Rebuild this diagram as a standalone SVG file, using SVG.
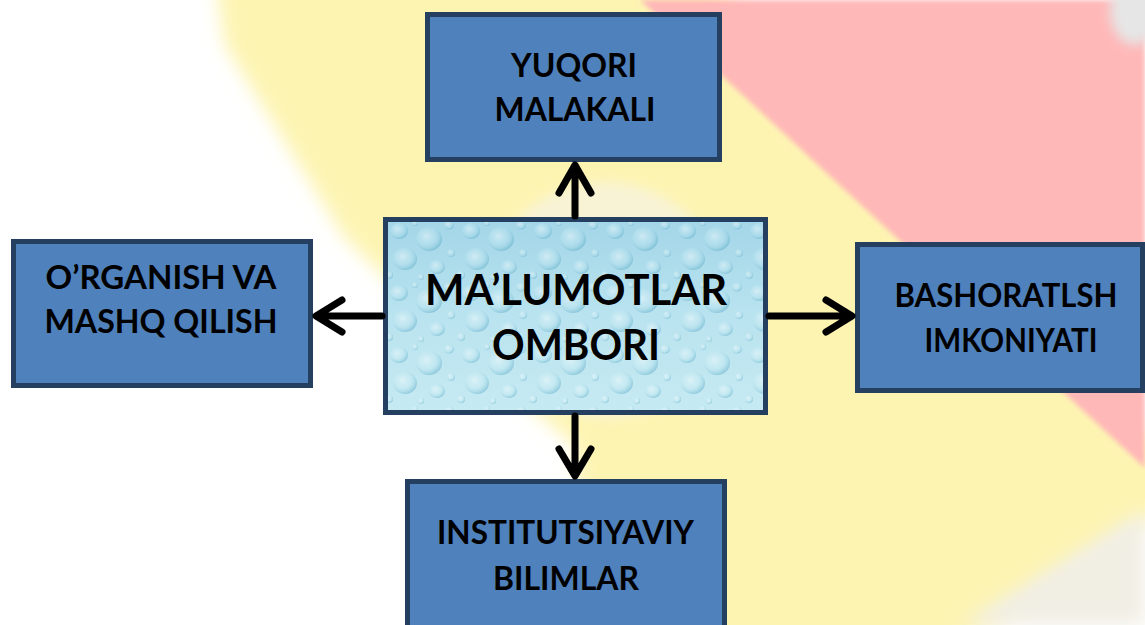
<svg xmlns="http://www.w3.org/2000/svg" width="1145" height="625" viewBox="0 0 1145 625">
<style>
.box{fill:#4f81bd;stroke:#243f60;stroke-width:5}
.lbl{font-family:Lato,"Liberation Sans",sans-serif;font-weight:bold;font-size:31.5px;fill:#000;text-anchor:middle}
.big{font-size:42px}
.conn{stroke:#000;stroke-width:7;fill:none;stroke-linecap:round;stroke-linejoin:round}
</style>
<defs>
<filter id="blurBig" x="-20%" y="-20%" width="140%" height="140%"><feGaussianBlur stdDeviation="9"/></filter>
<filter id="blurMid" x="-20%" y="-20%" width="140%" height="140%"><feGaussianBlur stdDeviation="6"/></filter>
<filter id="blurSm" x="-10%" y="-10%" width="120%" height="120%"><feGaussianBlur stdDeviation="2.5"/></filter>
<linearGradient id="water" x1="0" y1="0" x2="0" y2="1">
<stop offset="0" stop-color="#a3d6e8"/>
<stop offset="0.5" stop-color="#b9e3ef"/>
<stop offset="1" stop-color="#c6eaf2"/>
</linearGradient>
<radialGradient id="drop" cx="0.4" cy="0.38" r="0.62">
<stop offset="0" stop-color="#ffffff" stop-opacity="0.45"/>
<stop offset="0.55" stop-color="#d6f1f7" stop-opacity="0.2"/>
<stop offset="0.85" stop-color="#7fc2d8" stop-opacity="0.35"/>
<stop offset="1" stop-color="#5eaac6" stop-opacity="0.45"/>
</radialGradient>
<pattern id="drops" patternUnits="userSpaceOnUse" x="385" y="219" width="72" height="62">
<ellipse cx="14" cy="12" rx="9" ry="8" fill="url(#drop)"/>
<ellipse cx="44" cy="20" rx="13" ry="12" fill="url(#drop)"/>
<ellipse cx="64" cy="6" rx="5" ry="4.5" fill="url(#drop)"/>
<ellipse cx="20" cy="40" rx="12" ry="11" fill="url(#drop)"/>
<ellipse cx="52" cy="48" rx="8" ry="7" fill="url(#drop)"/>
<ellipse cx="4" cy="56" rx="4" ry="4" fill="url(#drop)"/>
<ellipse cx="66" cy="34" rx="4" ry="4" fill="url(#drop)"/>
<ellipse cx="36" cy="58" rx="3" ry="3" fill="url(#drop)"/>
<ellipse cx="30" cy="4" rx="3" ry="3" fill="url(#drop)"/>
</pattern>
</defs>

<g id="background">
<rect x="0" y="0" width="1145" height="625" fill="#ffffff"/>
<polygon points="214,-30 700,-30 1180,470 1180,500 940,660 590,660 575,445 445,335 345,238 225,45" fill="#fdf4b2" filter="url(#blurBig)"/>
<polygon points="640,0 1145,0 1145,468" fill="#ffb8b8" filter="url(#blurSm)"/>
<ellipse cx="605" cy="300" rx="120" ry="118" fill="#f8f3dc" filter="url(#blurMid)" opacity="0.85"/>
<ellipse cx="1135" cy="10" rx="25" ry="35" fill="#e6e6e6" filter="url(#blurMid)"/>
<polygon points="960,625 1145,510 1145,625" fill="#f1eee4" filter="url(#blurBig)"/>
</g>

<g id="node-top">
<rect class="box" x="427.5" y="14.5" width="292" height="145"/>
<text class="lbl" x="574" y="77" textLength="126" lengthAdjust="spacingAndGlyphs">YUQORI</text>
<text class="lbl" x="575" y="121" textLength="161" lengthAdjust="spacingAndGlyphs">MALAKALI</text>
</g>

<g id="node-left">
<rect class="box" x="13.5" y="241.5" width="297" height="144"/>
<text class="lbl" x="161" y="289" textLength="231" lengthAdjust="spacingAndGlyphs">O’RGANISH VA</text>
<text class="lbl" x="161" y="333" textLength="233" lengthAdjust="spacingAndGlyphs">MASHQ QILISH</text>
</g>

<g id="node-right">
<rect class="box" x="857.5" y="244.5" width="285" height="146"/>
<text class="lbl" x="1006" y="307" textLength="223" lengthAdjust="spacingAndGlyphs">BASHORATLSH</text>
<text class="lbl" x="1011" y="352" textLength="173" lengthAdjust="spacingAndGlyphs">IMKONIYATI</text>
</g>

<g id="node-bottom">
<rect class="box" x="407.5" y="481.5" width="317" height="160"/>
<text class="lbl" x="565.5" y="544" textLength="257" lengthAdjust="spacingAndGlyphs">INSTITUTSIYAVIY</text>
<text class="lbl" x="566" y="590" textLength="146" lengthAdjust="spacingAndGlyphs">BILIMLAR</text>
</g>

<g id="node-center">
<rect x="385.5" y="219.5" width="380" height="193" fill="url(#water)"/>
<rect x="385.5" y="219.5" width="380" height="193" fill="url(#drops)"/>
<rect x="385.5" y="219.5" width="380" height="193" fill="none" stroke="#243f60" stroke-width="5"/>
<text class="lbl big" x="576" y="305" textLength="302" lengthAdjust="spacingAndGlyphs">MA’LUMOTLAR</text>
<text class="lbl big" x="576" y="360" textLength="168" lengthAdjust="spacingAndGlyphs">OMBORI</text>
</g>

<g id="connectors">
<path class="conn" d="M575 216 V166 M559 193 L575 165 L591 193"/>
<path class="conn" d="M575 416 V475 M559 449 L575 476 L591 449"/>
<path class="conn" d="M382 316 H317 M342 300 L316 316 L342 332"/>
<path class="conn" d="M769 316 H851 M826 300 L852 316 L826 332"/>
</g>
</svg>
